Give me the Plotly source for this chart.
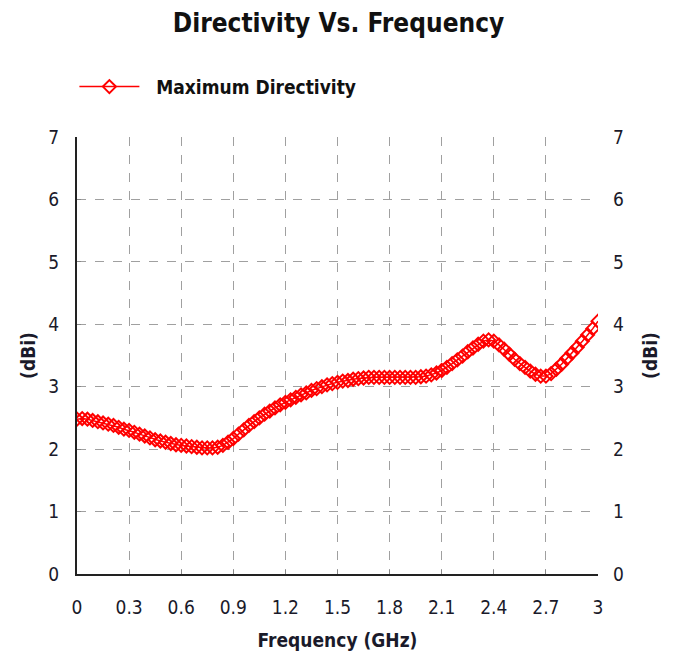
import plotly.graph_objects as go

freq = [0.00, 0.03, 0.06, 0.09, 0.12, 0.15, 0.18, 0.21, 0.24, 0.27,
        0.30, 0.33, 0.36, 0.39, 0.42, 0.45, 0.48, 0.51, 0.54, 0.57,
        0.60, 0.63, 0.66, 0.69, 0.72, 0.75, 0.78, 0.81, 0.84, 0.87,
        0.90, 0.93, 0.96, 0.99, 1.02, 1.05, 1.08, 1.11, 1.14, 1.17,
        1.20, 1.23, 1.26, 1.29, 1.32, 1.35, 1.38, 1.41, 1.44, 1.47,
        1.50, 1.53, 1.56, 1.59, 1.62, 1.65, 1.68, 1.71, 1.74, 1.77,
        1.80, 1.83, 1.86, 1.89, 1.92, 1.95, 1.98, 2.01, 2.04, 2.07,
        2.10, 2.13, 2.16, 2.19, 2.22, 2.25, 2.28, 2.31, 2.34, 2.37,
        2.40, 2.43, 2.46, 2.49, 2.52, 2.55, 2.58, 2.61, 2.64, 2.67,
        2.70, 2.73, 2.76, 2.79, 2.82, 2.85, 2.88, 2.91, 2.94, 2.97, 3.00]

directivity = [2.48, 2.49, 2.48, 2.46, 2.44, 2.42, 2.40, 2.38, 2.35, 2.32,
               2.30, 2.27, 2.24, 2.21, 2.18, 2.15, 2.13, 2.11, 2.09, 2.07,
               2.06, 2.05, 2.04, 2.03, 2.02, 2.02, 2.02, 2.03, 2.06, 2.11,
               2.17, 2.24, 2.31, 2.38, 2.44, 2.50, 2.56, 2.61, 2.66, 2.71,
               2.75, 2.79, 2.83, 2.87, 2.90, 2.94, 2.97, 3.00, 3.03, 3.05,
               3.07, 3.09, 3.10, 3.12, 3.13, 3.14, 3.15, 3.15, 3.15, 3.15,
               3.15, 3.15, 3.15, 3.15, 3.15, 3.15, 3.16, 3.17, 3.19, 3.22,
               3.26, 3.31, 3.37, 3.43, 3.49, 3.56, 3.62, 3.68, 3.73, 3.75,
               3.73, 3.67, 3.60, 3.52, 3.44, 3.37, 3.31, 3.25, 3.20, 3.17,
               3.17, 3.21, 3.28, 3.36, 3.45, 3.54, 3.63, 3.73, 3.83, 3.93, 4.05]

x_ticks = [0, 0.3, 0.6, 0.9, 1.2, 1.5, 1.8, 2.1, 2.4, 2.7, 3]
x_tick_labels = ["0", "0.3", "0.6", "0.9", "1.2", "1.5", "1.8", "2.1", "2.4", "2.7", "3"]
y_ticks = [0, 1, 2, 3, 4, 5, 6, 7]

FONT = "Liberation Sans Narrow, Arial Narrow, DejaVu Sans Condensed, sans-serif"
TXT = "#1a1a2a"
GRID = "#a0a0a0"

fig = go.Figure()
fig.add_trace(go.Scatter(
    x=freq, y=directivity, name="<b>\u00a0\u00a0Maximum Directivity</b>",
    mode="lines+markers",
    line=dict(color="red", width=1.5),
    marker=dict(symbol="diamond-open", size=10, color="red", line=dict(width=2, color="red")),
))
# invisible trace for right axis
fig.add_trace(go.Scatter(x=[freq[0]], y=[directivity[0]], yaxis="y2",
                         mode="markers", marker=dict(opacity=0), showlegend=False,
                         hoverinfo="skip"))

fig.update_layout(
    width=677, height=659,
    margin=dict(l=77, r=79, t=137, b=85),
    paper_bgcolor="white", plot_bgcolor="white",
    font=dict(family=FONT, color=TXT, size=19),
    title=dict(text="<b>Directivity Vs. Frequency</b>", x=0.5, xanchor="center",
               y=0.966, yanchor="middle", font=dict(size=26, family=FONT, color="#111")),
    showlegend=True,
    legend=dict(x=-0.005, y=1.115, xanchor="left", yanchor="middle", orientation="h",
                font=dict(size=19, family=FONT, color="#111"), bgcolor="rgba(0,0,0,0)",
                itemwidth=60),
    xaxis=dict(range=[0, 3], tickvals=x_ticks, ticktext=x_tick_labels,
               showgrid=True, gridcolor=GRID, griddash="dash", gridwidth=1,
               showline=True, linecolor="#222", linewidth=2, mirror=False,
               ticks="inside", ticklen=4, tickcolor="#888", zeroline=False,
               tickfont=dict(size=19), ticklabelstandoff=15,
               title=dict(text="<b>Frequency (GHz)</b>", font=dict(size=19), standoff=17)),
    yaxis=dict(range=[0, 7], tickvals=y_ticks, showgrid=True, gridcolor=GRID,
               griddash="dash", gridwidth=1, showline=True, linecolor="#222", linewidth=2,
               ticks="inside", ticklen=4, tickcolor="#888", zeroline=False,
               tickfont=dict(size=19), ticklabelstandoff=12,
               title=dict(text="<b>(dBi)</b>", font=dict(size=19), standoff=8)),
    yaxis2=dict(range=[0, 7], tickvals=y_ticks, overlaying="y", side="right",
                showgrid=False, showline=False, ticks="", zeroline=False,
                tickfont=dict(size=19), ticklabelstandoff=14,
                title=dict(text="<b>(dBi)</b>", font=dict(size=19), standoff=20)),
)

fig.write_html("out.html")
